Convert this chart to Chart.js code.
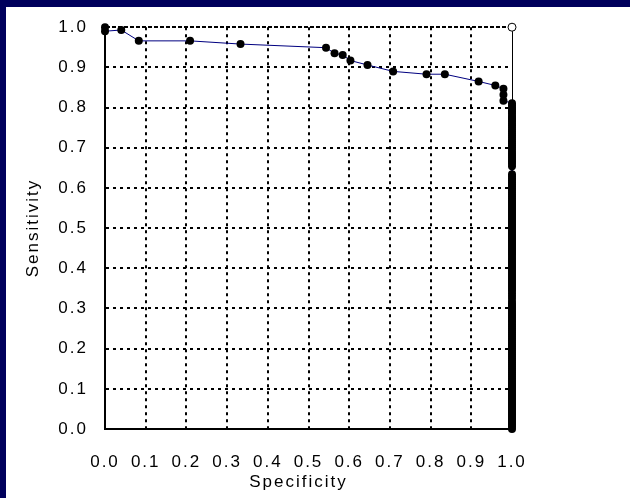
<!DOCTYPE html>
<html>
<head>
<meta charset="utf-8">
<script src="https://cdn.jsdelivr.net/npm/chart.js@4.4.1/dist/chart.umd.min.js"></script>
<style>
  html, body { margin: 0; padding: 0; background: #ffffff; }
  #wrap { width: 630px; height: 498px; position: relative; }
</style>
</head>
<body>
<div id="wrap"><canvas id="c" width="630" height="498"></canvas></div>
<script>
// ---- Data ----
const headSpecificity = [0, 0, 0.04, 0.083, 0.209, 0.333, 0.543, 0.564, 0.584, 0.603, 0.645, 0.708, 0.790, 0.835, 0.918, 0.959, 0.979, 0.979, 0.979];
const headSensitivity = [1.0, 0.99, 0.993, 0.966, 0.966, 0.958, 0.949, 0.935, 0.931, 0.917, 0.906, 0.890, 0.883, 0.883, 0.865, 0.855, 0.847, 0.832, 0.817];
const tailSpecificity = 1.0;
const tailSensitivity = [
  0.811, 0.806, 0.800, 0.795, 0.790, 0.785, 0.779, 0.774, 0.770, 0.765, 0.760, 0.756, 0.751, 0.746, 0.741, 0.736,
  0.731, 0.726, 0.721, 0.716, 0.711, 0.706, 0.701, 0.696, 0.690, 0.685, 0.680, 0.675, 0.670, 0.665, 0.660, 0.654,
  0.634, 0.629, 0.624, 0.619, 0.614, 0.609, 0.604, 0.599, 0.594, 0.589, 0.584, 0.579, 0.574, 0.569, 0.564, 0.559,
  0.554, 0.549, 0.544, 0.539, 0.534, 0.529, 0.524, 0.519, 0.514, 0.509, 0.504, 0.499, 0.494, 0.489, 0.484, 0.479,
  0.474, 0.469, 0.464, 0.459, 0.454, 0.449, 0.444, 0.439, 0.434, 0.429, 0.424, 0.419, 0.414, 0.409, 0.404, 0.399,
  0.394, 0.389, 0.384, 0.379, 0.374, 0.369, 0.364, 0.359, 0.354, 0.349, 0.344, 0.338, 0.331, 0.324, 0.317, 0.311,
  0.306, 0.301, 0.296, 0.291, 0.286, 0.281, 0.276, 0.271, 0.266, 0.261, 0.256, 0.251, 0.246, 0.241, 0.236, 0.231,
  0.226, 0.221, 0.216, 0.211, 0.206, 0.201, 0.196, 0.191, 0.186, 0.181, 0.176, 0.171, 0.166, 0.161, 0.156, 0.151,
  0.146, 0.141, 0.136, 0.131, 0.126, 0.121, 0.116, 0.111, 0.106, 0.101, 0.096, 0.091, 0.086, 0.081, 0.076, 0.071,
  0.066, 0.061, 0.056, 0.051, 0.046, 0.041, 0.036, 0.031, 0.026, 0.021, 0.016, 0.011, 0.006, 0.000
];
const openPointSpecificity = [1.0];
const openPointSensitivity = [1.0];
const xTickLabels = ['0.0','0.1','0.2','0.3','0.4','0.5','0.6','0.7','0.8','0.9','1.0'];
const yTickLabels = ['0.0','0.1','0.2','0.3','0.4','0.5','0.6','0.7','0.8','0.9','1.0'];
const xTitle = 'Specificity';
const yTitle = 'Sensitivity';

// ---- Build chart data ----
const curve = headSpecificity.map((x, i) => ({ x: x, y: headSensitivity[i] }))
  .concat(tailSensitivity.map(y => ({ x: tailSpecificity, y: y })));
const openPts = openPointSpecificity.map((x, i) => ({ x: x, y: openPointSensitivity[i] }));

const FONT = { family: '"Liberation Sans", Arial, sans-serif', size: 17 };
const NAVY = '#00005c';
const SPACING = '2px';

function setSpacing(chart) {
  if ('letterSpacing' in chart.ctx) chart.ctx.letterSpacing = SPACING;
}

const framePlugin = {
  id: 'frame',
  afterInit(chart) { setSpacing(chart); },
  beforeUpdate(chart) { setSpacing(chart); },
  beforeDraw(chart) {
    const ctx = chart.ctx;
    ctx.save();
    ctx.fillStyle = '#ffffff';
    ctx.fillRect(0, 0, chart.width, chart.height);
    ctx.fillStyle = NAVY;
    ctx.fillRect(0, 0, chart.width, 7);
    ctx.fillRect(0, 0, 6, chart.height);
    ctx.restore();
    setSpacing(chart);
  },
  afterDraw(chart) {
    // x-axis title, placed slightly left of the plot centre as in the reference
    const ctx = chart.ctx;
    const a = chart.chartArea;
    ctx.save();
    ctx.fillStyle = '#000';
    ctx.font = FONT.size + 'px ' + FONT.family;
    ctx.textAlign = 'center';
    ctx.textBaseline = 'middle';
    ctx.fillText(xTitle, (a.left + a.right) / 2 - 10, a.bottom + 53);
    ctx.restore();
  }
};

function tickIndexLabel(list) {
  return function (v) {
    const i = Math.round(v * 10);
    return list[i] !== undefined ? list[i] : '';
  };
}

new Chart(document.getElementById('c'), {
  type: 'scatter',
  data: {
    datasets: [
      {
        data: curve,
        showLine: true,
        borderColor: '#000080',
        borderWidth: 1,
        pointRadius: 4,
        pointBackgroundColor: '#000000',
        pointBorderColor: '#000000',
        pointBorderWidth: 0,
        clip: false,
        order: 2
      },
      {
        data: openPts,
        showLine: false,
        pointRadius: 4,
        pointBackgroundColor: '#ffffff',
        pointBorderColor: '#000000',
        pointBorderWidth: 1,
        clip: false,
        order: 1
      }
    ]
  },
  options: {
    responsive: false,
    animation: false,
    devicePixelRatio: 1,
    layout: { padding: { top: 25, right: 118, left: 0, bottom: 0 } },
    plugins: { legend: { display: false }, tooltip: { enabled: false } },
    scales: {
      x: {
        type: 'linear',
        min: 0, max: 1,
        afterFit: s => { s.height = 69; },
        ticks: { stepSize: 0.1, color: '#000', font: FONT, padding: 23, maxRotation: 0, autoSkip: false, callback: tickIndexLabel(xTickLabels) },
        grid: {
          drawTicks: false,
          color: c => (c.tick && c.tick.value === 0) ? 'rgba(0,0,0,0)' : '#000',
          lineWidth: c => (c.tick && Math.abs(c.tick.value - 1) < 1e-9) ? 1 : 2
        },
        border: {
          display: true, color: '#000', width: 2,
          dash: c => (c.tick && Math.abs(c.tick.value - 1) < 1e-9) ? [] : [3, 4]
        },
        title: { display: false, text: xTitle }
      },
      y: {
        type: 'linear',
        min: 0, max: 1,
        afterFit: s => { s.width = 105; },
        ticks: { stepSize: 0.1, color: '#000', font: FONT, padding: 17, autoSkip: false, callback: tickIndexLabel(yTickLabels) },
        grid: {
          drawTicks: false,
          color: c => (c.tick && c.tick.value === 0) ? 'rgba(0,0,0,0)' : '#000',
          lineWidth: 2
        },
        border: {
          display: true, color: '#000', width: 2,
          dash: c => (c.tick && Math.abs(c.tick.value - 1) < 1e-9) ? [4, 2] : [3, 4]
        },
        title: { display: true, text: yTitle, color: '#000', font: FONT, padding: { top: 22.8, bottom: 0 } }
      }
    }
  },
  plugins: [framePlugin]
});
</script>
</body>
</html>
